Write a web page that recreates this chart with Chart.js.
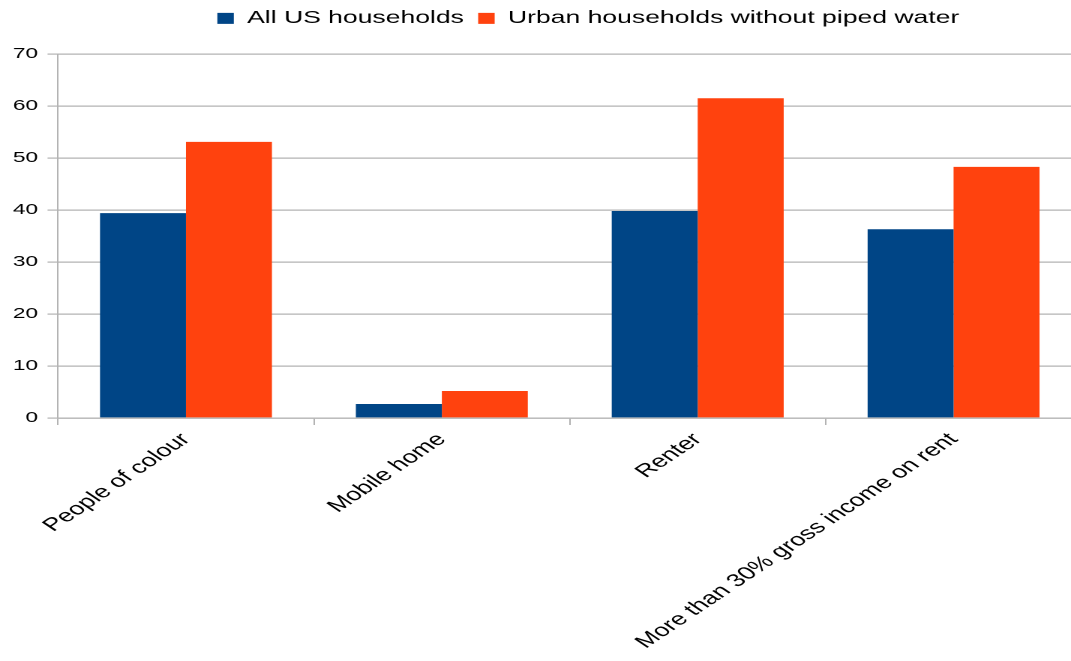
<!DOCTYPE html>
<html>
<head>
<meta charset="utf-8">
<script src="https://cdn.jsdelivr.net/npm/chart.js@4/dist/chart.umd.min.js"></script>
<style>
  html, body { margin: 0; padding: 0; background: #ffffff; overflow: hidden; }
  #wrap { width: 721px; height: 661px; transform: scaleX(1.5); transform-origin: 0 0; }
</style>
</head>
<body>
<div id="wrap"><canvas id="c" width="721" height="661"></canvas></div>
<script>
const categories = ["People of colour", "Mobile home", "Renter", "More than 30% gross income on rent"];
const seriesNames = ["All US households", "Urban households without piped water"];
const allUsHouseholds = [39.4, 2.7, 39.8, 36.3];
const urbanNoPipedWater = [53.1, 5.2, 61.5, 48.3];
const yTicks = [0, 10, 20, 30, 40, 50, 60, 70];

const FONT = "'Liberation Sans', Arial, sans-serif";
const GRID = "#b3b3b3";

const legendShift = {
  id: 'legendShift',
  afterLayout(chart) {
    const lg = chart.legend;
    if (!lg) return;
    const dy = lg.top;
    lg.top -= dy; lg.bottom -= dy;
    const dx = 27.4;
    lg.left += dx; lg.right += dx;
  }
};

new Chart(document.getElementById('c'), {
  type: 'bar',
  data: {
    labels: categories,
    datasets: [
      { label: seriesNames[0], data: allUsHouseholds, backgroundColor: '#004586', borderWidth: 0,
        categoryPercentage: 0.672, barPercentage: 1.0 },
      { label: seriesNames[1], data: urbanNoPipedWater, backgroundColor: '#ff420e', borderWidth: 0,
        categoryPercentage: 0.672, barPercentage: 1.0 }
    ]
  },
  options: {
    responsive: false,
    maintainAspectRatio: false,
    devicePixelRatio: 2,
    animation: false,
    layout: { padding: { top: 16.8, right: 0, left: 8.6, bottom: 0 } },
    plugins: {
      legend: {
        position: 'top',
        labels: {
          boxWidth: 11, boxHeight: 11, padding: 9.5,
          color: '#000000',
          font: { family: FONT, size: 17.7 }
        }
      },
      tooltip: { enabled: false },
      title: { display: false }
    },
    scales: {
      x: {
        afterFit(scale) { scale.height = 661 - 418; },
        grid: { display: true, drawOnChartArea: false, offset: true, tickLength: 7, color: GRID, lineWidth: 1 },
        border: { display: true, color: GRID, width: 1.2 },
        ticks: {
          autoSkip: false, minRotation: 45, maxRotation: 45, padding: 4,
          color: '#000000', font: { family: FONT, size: 18 }
        }
      },
      y: {
        min: 0, max: 70,
        afterFit(scale) { scale.width = 30.1; },
        afterBuildTicks(scale) { scale.ticks = yTicks.map(v => ({ value: v })); },
        grid: { color: GRID, lineWidth: 1.2, tickLength: 7 },
        border: { display: true, color: GRID, width: 1 },
        ticks: {
          crossAlign: 'far', padding: 6, color: '#000000', font: { family: FONT, size: 15 },
          callback: (v) => String(v).padStart(2, '\u2007')
        }
      }
    }
  },
  plugins: [legendShift]
});
</script>
</body>
</html>
